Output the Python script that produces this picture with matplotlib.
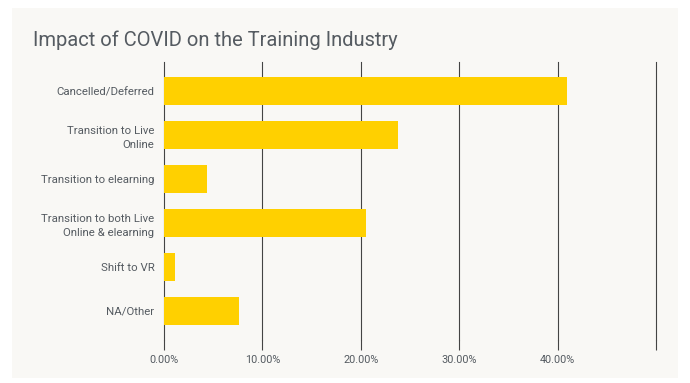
import matplotlib
matplotlib.use("Agg")
import matplotlib.pyplot as plt
from matplotlib.ticker import FuncFormatter

categories = ["Cancelled/Deferred", "Transition to Live\nOnline", "Transition to elearning",
              "Transition to both Live\nOnline & elearning", "Shift to VR", "NA/Other"]
values = [41.0, 23.8, 4.4, 20.5, 1.1, 7.6]
xticks = [0, 10, 20, 30, 40, 50]

plt.rcParams['font.family'] = ['Roboto', 'DejaVu Sans']

fig = plt.figure(figsize=(6.9, 3.83), dpi=100)
fig.patch.set_facecolor('white')

bg = fig.add_axes([12/690, 1-378/383, (678-12)/690, (378-8)/383], zorder=0)
bg.set_facecolor('#f9f8f5')
bg.set_xticks([]); bg.set_yticks([])
for s in bg.spines.values():
    s.set_visible(False)

ax = fig.add_axes([164/690, 1-340/383, (656-164)/690, (340-62)/383], zorder=1)
ax.set_facecolor('none')
y = list(range(len(categories)))
ax.barh(y, values, height=0.64, color='#ffd000', zorder=3)
ax.set_xlim(0, 50)
ax.set_ylim(5.66, -0.66)
ax.set_yticks(y)
ax.set_yticklabels(categories, fontsize=8.2, color='#555b61', ha='right', linespacing=1.45)
ax.set_xticks(xticks)
ax.xaxis.set_major_formatter(FuncFormatter(lambda v, p: f"{v:.2f}%" if v < 50 else ""))
ax.tick_params(axis='x', labelsize=7.8, labelcolor='#555b61', length=7, color='#444444', width=0.8, pad=4)
ax.tick_params(axis='y', length=0, pad=7)
ax.grid(axis='x', color='#444444', linewidth=0.8, zorder=1)
for gl in ax.get_xgridlines():
    gl.set_clip_on(False)
for s in ax.spines.values():
    s.set_visible(False)

fig.text(33/690, 1-40/383, "Impact of COVID on the Training Industry", fontsize=14.5,
         color='#555b61', va='center', ha='left', zorder=2)

fig.savefig("out.png", dpi=100, facecolor=fig.get_facecolor())
